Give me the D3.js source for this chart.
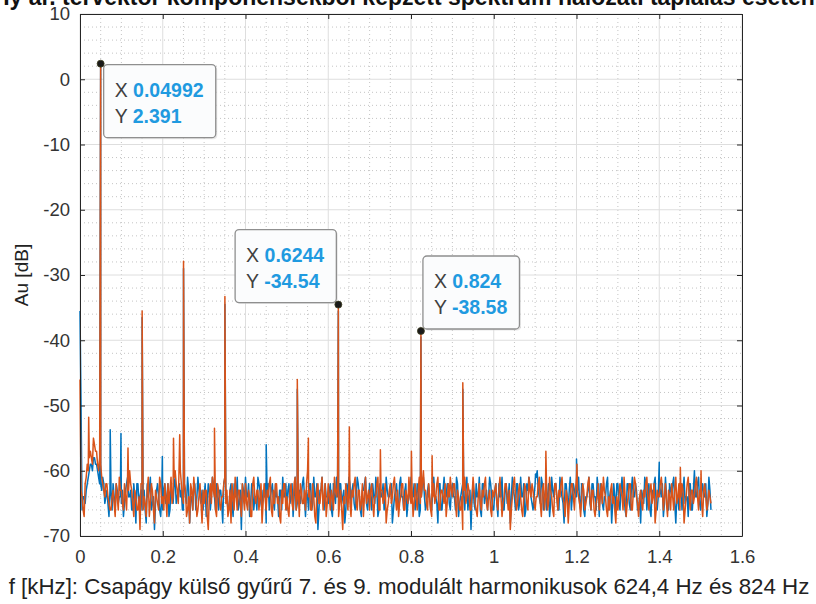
<!DOCTYPE html>
<html><head><meta charset="utf-8">
<script src="https://cdn.jsdelivr.net/npm/d3@7"></script>
<style>body{margin:0;background:#fff;}svg{display:block;font-family:"Liberation Sans",Arial,sans-serif;}</style>
</head><body>
<script>
// ---------- DATA ----------
const titleText = "Iy ár. térvektor komponensekből képzett spektrum hálózati táplálás esetén";
const xLabel = "f [kHz]: Csapágy külső gyűrű 7. és 9. modulált harmonikusok 624,4 Hz és 824 Hz";
const yLabel = "Au [dB]";
const xTicks = [0, 0.2, 0.4, 0.6, 0.8, 1, 1.2, 1.4, 1.6];
const yTicks = [10, 0, -10, -20, -30, -40, -50, -60, -70];
const freqStep = 0.005; // sampling step of the noise arrays (kHz); "Mid" arrays sit half a step later

const blueNoise = [
-35.5,-66,-64,-63,-61,-59,-60,-58,-59,-61,-62,-61,-65,-63,-67,-63,-62,-66,-63,-64,
-65,-67,-63,-61,-64,-66,-62,-68,-62,-64,-66,-63,-68,-64,-61,-65,-69,-63,-64,-67,
-66,-62,-64,-67,-62,-65,-61,-64,-62,-63,-66,-64,-61,-68,-64,-62,-66,-61,-64,-63,
-64,-67,-62,-66,-61,-64,-62,-66,-63,-68,-61,-64,-66,-62,-67,-64,-61,-65,-69,-63,
-61,-64,-67,-62,-66,-64,-61,-63,-66,-64,-68,-62,-64,-62,-66,-64,-67,-63,-61,-64,
-66,-62,-64,-67,-61,-65,-63,-64,-61,-67,-64,-62,-66,-61,-64,-69,-63,-61,-66,-64,
-65,-62,-67,-64,-61,-66,-62,-64,-68,-62,-61,-65,-62,-66,-61,-64,-67,-63,-61,-66,
-62,-66,-64,-61,-67,-62,-64,-66,-61,-64,-63,-68,-64,-62,-66,-61,-64,-63,-67,-64,
-61,-64,-66,-62,-67,-64,-61,-66,-63,-64,-66,-61,-64,-68,-62,-66,-61,-64,-62,-66,
-62,-64,-61,-67,-64,-62,-66,-61,-64,-69,-62,-66,-64,-61,-67,-62,-64,-66,-61,-64,
-66,-62,-67,-64,-61,-66,-62,-64,-68,-61,-64,-62,-66,-61,-64,-67,-62,-61,-64,-66,
-62,-60,-64,-61,-66,-63,-64,-67,-61,-64,-62,-66,-61,-64,-68,-62,-66,-61,-64,-63,
-64,-61,-66,-62,-67,-64,-61,-66,-62,-64,-61,-67,-63,-66,-64,-61,-64,-68,-62,-66,
-62,-66,-61,-64,-67,-62,-66,-61,-64,-63,-66,-68,-64,-61,-66,-62,-67,-64,-61,-66,
-62,-64,-67,-61,-66,-62,-64,-61,-68,-64,-62,-66,-61,-64,-67,-62,-66,-60,-64,-61,
-66,-62,-64,-67,-61,-66
];
const blueNoiseMid = [
-50,-64,-65,-62,-60,-59,-58,-59,-60,-62,-63,-62,-64,-65,-63,-66,-64,-62,-65,-64,
-63,-65,-62,-64,-63,-66,-64,-62,-65,-63,-64,-66,-62,-63,-66,-64,-65,-62,-66,-64,
-63,-65,-62,-66,-64,-62,-65,-63,-64,-66,-62,-65,-63,-64,-66,-62,-64,-63,-65,-66,
-62,-65,-63,-64,-62,-66,-64,-63,-65,-62,-64,-66,-63,-65,-62,-64,-66,-63,-62,-65,
-64,-62,-65,-63,-64,-66,-62,-65,-63,-62,-64,-66,-63,-65,-62,-64,-63,-66,-64,-62,
-63,-65,-62,-64,-66,-63,-65,-62,-64,-63,-66,-62,-65,-64,-62,-66,-63,-65,-62,-64,
-63,-66,-62,-65,-64,-62,-65,-63,-66,-64,-62,-63,-65,-64,-62,-66,-63,-62,-65,-64,
-64,-62,-65,-63,-66,-64,-62,-65,-63,-64,-62,-66,-63,-65,-62,-64,-66,-62,-65,-63,
-64,-62,-65,-63,-66,-62,-64,-65,-62,-66,-63,-64,-65,-62,-66,-63,-64,-62,-65,-63,
-64,-66,-62,-65,-63,-64,-62,-66,-63,-64,-65,-62,-64,-66,-62,-65,-63,-64,-62,-66,
-63,-65,-62,-64,-66,-63,-65,-62,-64,-63,-66,-62,-65,-64,-62,-66,-63,-62,-65,-64,
-61,-63,-65,-62,-64,-66,-62,-65,-63,-62,-64,-66,-63,-65,-62,-64,-63,-66,-62,-64,
-63,-65,-62,-66,-64,-63,-65,-62,-64,-66,-63,-62,-65,-64,-62,-66,-63,-65,-64,-62,
-65,-63,-64,-66,-62,-65,-63,-64,-62,-66,-64,-63,-65,-62,-64,-66,-63,-62,-65,-64,
-63,-62,-65,-64,-66,-63,-62,-65,-64,-66,-62,-63,-65,-64,-62,-66,-63,-64,-62,-65,
-63,-64,-62,-65,-63
];
const orangeNoise = [
-46,-64,-67,-61,-60,-57,-59,-56,-57,-60,-59,-62,-64,-62,-65,-66,-63,-67,-64,-61,
-63,-66,-64,-61,-60,-63,-67,-64,-66,-69,-62,-64,-67,-61,-65,-63,-68,-64,-66,-62,
-64,-62,-67,-65,-61,-64,-60,-63,-58,-62,-65,-63,-66,-68,-63,-61,-64,-66,-62,-68,
-65,-63,-69,-62,-61,-64,-67,-63,-66,-64,-61,-63,-66,-68,-64,-61,-66,-63,-67,-64,
-62,-66,-64,-67,-61,-65,-63,-64,-68,-62,-66,-64,-61,-67,-65,-62,-64,-68,-65,-62,
-64,-67,-62,-66,-61,-64,-67,-63,-65,-66,-60,-63,-66,-64,-68,-62,-65,-61,-64,-67,
-62,-66,-64,-61,-64,-67,-63,-69,-65,-64,-62,-67,-64,-61,-66,-63,-65,-67,-61,-64,
-66,-62,-67,-64,-61,-66,-63,-64,-68,-65,-62,-64,-61,-66,-67,-64,-62,-66,-64,-61,
-65,-67,-62,-66,-61,-64,-60,-63,-66,-64,-67,-62,-64,-61,-66,-63,-65,-67,-62,-61,
-64,-62,-67,-64,-66,-69,-61,-64,-63,-66,-61,-65,-67,-62,-66,-64,-61,-66,-63,-67,
-64,-62,-66,-61,-67,-64,-62,-66,-69,-64,-61,-66,-63,-64,-67,-62,-65,-61,-64,-63,
-66,-64,-61,-67,-62,-64,-66,-61,-64,-67,-62,-66,-64,-61,-65,-63,-68,-64,-62,-66,
-61,-64,-67,-62,-66,-64,-61,-66,-63,-67,-64,-66,-62,-61,-64,-67,-66,-62,-64,-68,
-66,-62,-64,-61,-67,-64,-62,-66,-61,-64,-67,-63,-66,-64,-61,-66,-62,-64,-68,-63,
-64,-61,-66,-62,-67,-64,-62,-66,-61,-64,-66,-62,-68,-64,-61,-66,-63,-64,-61,-66,
-64,-67,-62,-66,-63,-65
];
const orangeNoiseMid = [
-63,-66,-62,-59,-58,-58,-55,-57,-59,-58,-61,-63,-62,-64,-66,-64,-65,-62,-66,-63,
-65,-62,-66,-63,-62,-65,-63,-66,-64,-62,-66,-65,-63,-67,-62,-66,-63,-65,-61,-65,
-66,-64,-62,-63,-65,-61,-62,-65,-60,-64,-62,-67,-64,-62,-66,-63,-67,-64,-65,-63,
-63,-67,-64,-65,-63,-66,-62,-65,-64,-62,-65,-67,-63,-62,-66,-64,-63,-65,-62,-66,
-65,-63,-67,-62,-64,-63,-66,-62,-65,-64,-63,-62,-66,-63,-62,-65,-67,-63,-62,-66,
-66,-63,-65,-62,-66,-63,-62,-65,-63,-62,-64,-66,-62,-67,-63,-65,-63,-66,-62,-65,
-64,-63,-66,-63,-62,-65,-66,-64,-62,-66,-65,-63,-62,-65,-63,-66,-62,-64,-65,-63,
-63,-65,-64,-62,-66,-63,-65,-62,-66,-63,-65,-62,-64,-63,-65,-62,-66,-63,-65,-64,
-63,-65,-64,-63,-65,-62,-63,-65,-62,-66,-64,-65,-62,-66,-63,-64,-62,-65,-64,-63,
-62,-65,-63,-66,-64,-63,-65,-62,-66,-64,-63,-66,-64,-65,-63,-62,-65,-64,-66,-63,
-63,-65,-63,-64,-65,-62,-64,-63,-66,-62,-64,-65,-62,-66,-64,-63,-66,-63,-62,-65,
-64,-62,-65,-63,-66,-62,-65,-63,-66,-62,-64,-63,-62,-64,-67,-64,-65,-62,-64,-63,
-63,-65,-64,-63,-65,-62,-64,-63,-66,-65,-62,-64,-65,-63,-66,-64,-63,-65,-66,-64,
-64,-63,-66,-64,-65,-62,-66,-63,-62,-65,-64,-65,-63,-62,-64,-63,-65,-62,-66,-64,
-62,-63,-64,-65,-63,-66,-64,-63,-65,-62,-64,-63,-66,-62,-64,-63,-65,-62,-64,-63,
-65,-63,-64,-65,-64
];
// spectral lines (frequency kHz, level dB)
const bluePeakF = [0.04992, 0.073, 0.099, 0.1502, 0.199, 0.2502, 0.3502, 0.45, 0.5252, 0.6244, 0.824, 0.9252, 1.101, 1.2, 1.4];
const bluePeakV = [2.2, -53.7, -54.3, -36.5, -57.8, -29, -34.5, -56, -47.5, -35.5, -39.5, -47.5, -60.5, -58.2, -58.7];
const orangePeakF = [0.021, 0.04992, 0.116, 0.1502, 0.226, 0.241, 0.2502, 0.325, 0.3502, 0.5252, 0.552, 0.6244, 0.651, 0.726, 0.801, 0.824, 0.851, 0.9252, 1.126, 1.201, 1.451, 1.501];
const orangePeakV = [-51.8, 2.391, -56.5, -35.5, -55, -54.5, -27.9, -53.5, -33.3, -46, -55, -34.54, -53.3, -56.8, -57, -38.58, -57.7, -46.5, -57, -59, -59.5, -60];
// data tips
const tipX = [0.04992, 0.6244, 0.824];
const tipY = [2.391, -34.54, -38.58];
const tipXText = ["0.04992", "0.6244", "0.824"];
const tipYText = ["2.391", "-34.54", "-38.58"];

// ---------- CHART ----------
const W = 816, H = 604;
const m = {left: 80, right: 74, top: 14, bottom: 68};
const svg = d3.select("body").append("svg").attr("width", W).attr("height", H);
const x = d3.scaleLinear().domain([0, 1.6]).range([m.left, W - m.right]);
const y = d3.scaleLinear().domain([-70, 10]).range([H - m.bottom, m.top]);

// grid: minor
const g = svg.append("g");
const xMinor = d3.range(0, 1.6001, 0.05).filter(v => Math.abs(v / 0.2 - Math.round(v / 0.2)) > 1e-6);
const yMinor = d3.range(-70, 10.001, 2).filter(v => v % 10 !== 0);
g.selectAll(".xm").data(xMinor).join("line")
  .attr("x1", d => x(d)).attr("x2", d => x(d)).attr("y1", y(10)).attr("y2", y(-70))
  .attr("stroke", "#c4c4c4").attr("stroke-width", 1).attr("stroke-dasharray", "1,3");
g.selectAll(".ym").data(yMinor).join("line")
  .attr("y1", d => y(d)).attr("y2", d => y(d)).attr("x1", x(0)).attr("x2", x(1.6))
  .attr("stroke", "#c4c4c4").attr("stroke-width", 1).attr("stroke-dasharray", "1,3");
// grid: major
g.selectAll(".xM").data(xTicks).join("line")
  .attr("x1", d => x(d)).attr("x2", d => x(d)).attr("y1", y(10)).attr("y2", y(-70))
  .attr("stroke", "#dedede").attr("stroke-width", 1);
g.selectAll(".yM").data(yTicks).join("line")
  .attr("y1", d => y(d)).attr("y2", d => y(d)).attr("x1", x(0)).attr("x2", x(1.6))
  .attr("stroke", "#dedede").attr("stroke-width", 1);

// series
function buildSeries(noise, noiseMid, pf, pv) {
  const pts = noise.map((v, i) => ({f: i * freqStep, v}));
  noiseMid.forEach((v, i) => pts.push({f: (i + 0.5) * freqStep, v}));
  pf.forEach((f, i) => pts.push({f, v: pv[i]}));
  pts.sort((a, b) => a.f - b.f);
  return pts;
}
const line = d3.line().x(d => x(d.f)).y(d => y(d.v));
const plot = svg.append("g");
plot.append("path").datum(buildSeries(blueNoise, blueNoiseMid, bluePeakF, bluePeakV))
  .attr("d", line).attr("fill", "none").attr("stroke", "#0072BD").attr("stroke-width", 1.5).attr("stroke-linejoin", "round");
plot.append("path").datum(buildSeries(orangeNoise, orangeNoiseMid, orangePeakF, orangePeakV))
  .attr("d", line).attr("fill", "none").attr("stroke", "#D95319").attr("stroke-width", 1.5).attr("stroke-linejoin", "round");

// axes (box with inward ticks)
const axCol = "#262626";
const fmt = d => String(+d.toFixed(2));
const axB = svg.append("g").attr("transform", `translate(0,${y(-70)})`)
  .call(d3.axisBottom(x).tickValues(xTicks).tickSizeInner(-5).tickSizeOuter(0).tickPadding(14).tickFormat(fmt));
const axT = svg.append("g").attr("transform", `translate(0,${y(10)})`)
  .call(d3.axisTop(x).tickValues(xTicks).tickSizeInner(-5).tickSizeOuter(0).tickFormat(""));
const axL = svg.append("g").attr("transform", `translate(${x(0)},0)`)
  .call(d3.axisLeft(y).tickValues(yTicks).tickSizeInner(-5).tickSizeOuter(0).tickPadding(10).tickFormat(fmt));
const axR = svg.append("g").attr("transform", `translate(${x(1.6)},0)`)
  .call(d3.axisRight(y).tickValues(yTicks).tickSizeInner(-5).tickSizeOuter(0).tickFormat(""));
[axB, axT, axL, axR].forEach(a => {
  a.selectAll("path.domain").attr("stroke", axCol);
  a.selectAll(".tick line").attr("stroke", axCol);
  a.selectAll("text").attr("fill", "#333").style("font-size", "18.5px").style("font-family", "'Liberation Sans',Arial,sans-serif");
});

// labels
svg.append("text").attr("x", 409).attr("y", 5).attr("text-anchor", "middle")
  .style("font-size", "23px").style("font-weight", "bold").attr("fill", "#111").text(titleText);
svg.append("text").attr("x", 409).attr("y", 594).attr("text-anchor", "middle")
  .style("font-size", "22.3px").attr("fill", "#222").text(xLabel);
svg.append("text").attr("transform", `translate(28,${y(-30)}) rotate(-90)`).attr("text-anchor", "middle")
  .style("font-size", "19px").attr("fill", "#222").text(yLabel);

// data tips
const placement = ["br", "tl", "tr"];
tipX.forEach((tx, i) => {
  const px = x(tx), py = y(tipY[i]);
  const tg = svg.append("g");
  const t = tg.append("g");
  const l1 = t.append("text").attr("x", 0).attr("y", 0).style("font-size", "19.5px");
  l1.append("tspan").attr("fill", "#404040").text("X ");
  l1.append("tspan").attr("fill", "#1f9ae0").style("font-weight", "bold").text(tipXText[i]);
  const l2 = t.append("text").attr("x", 0).attr("y", 26).style("font-size", "19.5px");
  l2.append("tspan").attr("fill", "#404040").text("Y ");
  l2.append("tspan").attr("fill", "#1f9ae0").style("font-weight", "bold").text(tipYText[i]);
  const bb = t.node().getBBox();
  const bw = bb.width + 23, bh = 73;
  let bx, by;
  if (placement[i] === "br") { bx = px + 3; by = py + 1; }
  else if (placement[i] === "tl") { bx = px - 2 - bw; by = py - 2 - bh; }
  else { bx = px + 2; by = py - 2 - bh; }
  tg.insert("rect", ":first-child").attr("x", bx + 1.5).attr("y", by + 1.5).attr("width", bw).attr("height", bh)
    .attr("rx", 4).attr("fill", "#d9d9d9").attr("opacity", 0.6);
  tg.insert("rect", "g").attr("x", bx).attr("y", by).attr("width", bw).attr("height", bh)
    .attr("rx", 4).attr("fill", "#fbfcfd").attr("stroke", "#8f8f8f").attr("stroke-width", 1.3);
  t.attr("transform", `translate(${bx + 11},${by + 32})`);
  svg.append("circle").attr("cx", px).attr("cy", py).attr("r", 3.5).attr("fill", "#1a1a1a").attr("stroke", "#3d3d1f").attr("stroke-width", 0.8);
});
</script>
</body></html>
